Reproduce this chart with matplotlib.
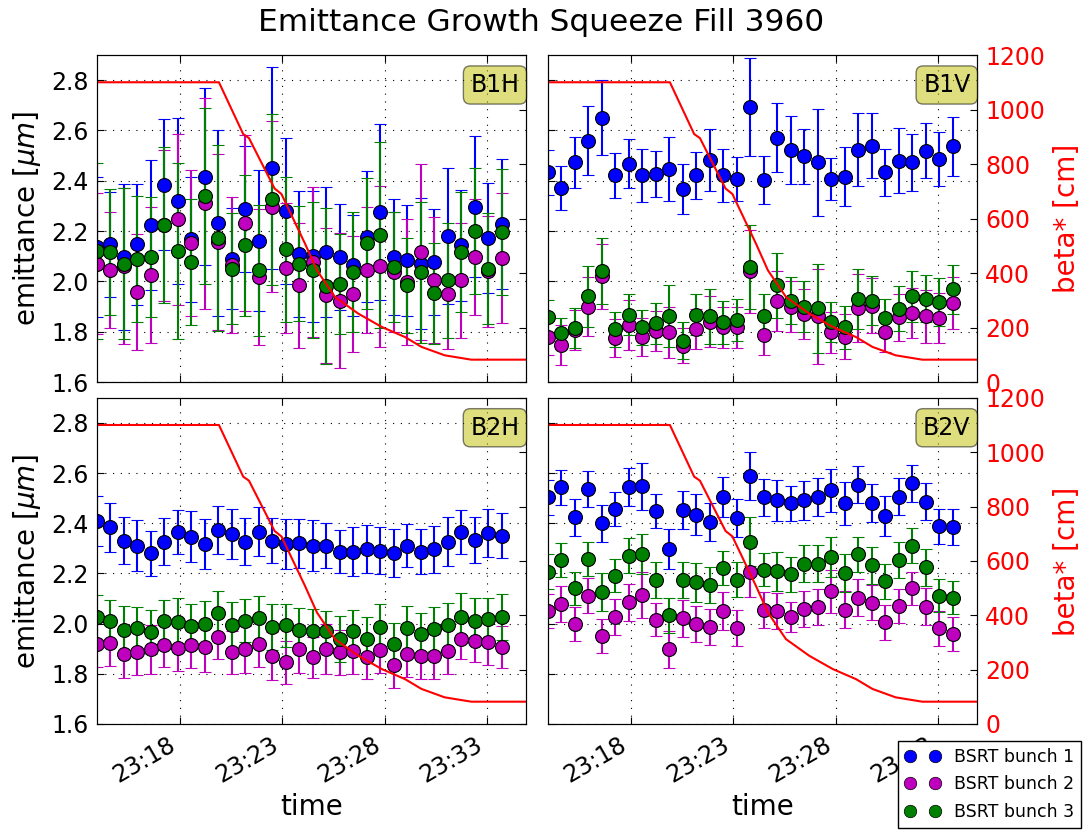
import numpy as np
import pandas as pd
import matplotlib
matplotlib.use("Agg")
import matplotlib.pyplot as plt
import matplotlib.dates as mdates
from matplotlib.lines import Line2D

# measurement times (one BSRT sample roughly every 40 s)
times = ["23:13:58", "23:14:37", "23:15:17", "23:15:56", "23:16:36", "23:17:15",
         "23:17:55", "23:18:34", "23:19:14", "23:19:53", "23:20:33", "23:21:12",
         "23:21:52", "23:22:31", "23:23:11", "23:23:50", "23:24:30", "23:25:09",
         "23:25:49", "23:26:28", "23:27:08", "23:27:47", "23:28:27", "23:29:06",
         "23:29:46", "23:30:25", "23:31:05", "23:31:44", "23:32:24", "23:33:03",
         "23:33:43"]

# beta* during the squeeze [cm]
beta_times = ["23:13:58", "23:19:55", "23:21:06", "23:21:23", "23:22:38", "23:22:58",
              "23:24:07", "23:24:42", "23:25:35", "23:26:43", "23:27:52", "23:29:00",
              "23:29:48", "23:30:56", "23:32:14", "23:34:54"]
beta_values = [1100, 1100, 910, 895, 710, 690, 508, 410, 312, 251, 202, 165,
               129, 98, 82, 82]

# B1H
b1h_1 = [2.137, 2.147, 2.097, 2.147, 2.224, 2.384, 2.32, 2.167, 2.417, 2.231, 2.09,
         2.287, 2.161, 2.451, 2.28, 2.11, 2.1, 2.117, 2.097, 2.064, 2.177, 2.275,
         2.097, 2.084, 2.071, 2.077, 2.18, 2.144, 2.297, 2.173, 2.228]
b1h_1_err = [0.28, 0.21, 0.29, 0.24, 0.26, 0.26, 0.33, 0.25, 0.35, 0.37, 0.20, 0.25,
             0.28, 0.40, 0.29, 0.25, 0.26, 0.26, 0.21, 0.20, 0.26, 0.35, 0.23, 0.22,
             0.26, 0.21, 0.27, 0.22, 0.28, 0.22, 0.26]
b1h_2 = [2.071, 2.044, 2.06, 1.957, 2.024, 2.224, 2.247, 2.151, 2.31, 2.155, 2.064,
         2.233, 2.017, 2.297, 2.053, 1.984, 2.077, 1.944, 1.924, 1.95, 2.044, 2.06,
         2.037, 1.997, 2.117, 2.007, 1.95, 2.004, 2.097, 2.04, 2.093]
b1h_2_err = [0.28, 0.23, 0.31, 0.23, 0.27, 0.30, 0.34, 0.29, 0.42, 0.35, 0.27, 0.35,
             0.27, 0.34, 0.26, 0.25, 0.30, 0.27, 0.27, 0.23, 0.25, 0.32, 0.24, 0.25,
             0.35, 0.25, 0.22, 0.23, 0.23, 0.22, 0.26]
b1h_3 = [2.12, 2.116, 2.07, 2.088, 2.097, 2.224, 2.12, 2.077, 2.341, 2.171, 2.05,
         2.144, 2.044, 2.327, 2.127, 2.071, 2.044, 1.98, 1.99, 2.037, 2.151, 2.184,
         2.057, 1.984, 2.037, 1.953, 2.004, 2.117, 2.201, 2.05, 2.195]
b1h_3_err = [0.35, 0.25, 0.30, 0.25, 0.24, 0.31, 0.35, 0.25, 0.35, 0.37, 0.22, 0.28,
             0.26, 0.34, 0.29, 0.23, 0.27, 0.31, 0.20, 0.24, 0.26, 0.37, 0.22, 0.19,
             0.28, 0.20, 0.23, 0.24, 0.25, 0.22, 0.25]

# B1V
b1v_1 = [2.433, 2.371, 2.473, 2.56, 2.651, 2.421, 2.468, 2.421, 2.427, 2.447, 2.367,
         2.421, 2.484, 2.421, 2.407, 2.695, 2.404, 2.571, 2.524, 2.497, 2.473, 2.407,
         2.417, 2.524, 2.54, 2.433, 2.48, 2.473, 2.52, 2.487, 2.537]
b1v_1_err = [0.09, 0.087, 0.10, 0.137, 0.15, 0.088, 0.097, 0.107, 0.093, 0.128, 0.10,
             0.093, 0.123, 0.105, 0.088, 0.195, 0.096, 0.137, 0.135, 0.11, 0.212, 0.085,
             0.117, 0.145, 0.128, 0.095, 0.128, 0.113, 0.11, 0.108, 0.117]
b1v_2 = [1.777, 1.748, 1.807, 1.9, 2.02, 1.775, 1.828, 1.78, 1.804, 1.797, 1.744,
         1.811, 1.84, 1.817, 1.817, 2.041, 1.788, 1.921, 1.9, 1.871, 1.861, 1.797,
         1.78, 1.895, 1.904, 1.797, 1.857, 1.873, 1.861, 1.855, 1.913]
b1v_2_err = [0.07, 0.08, 0.08, 0.117, 0.13, 0.075, 0.1, 0.075, 0.08, 0.1, 0.07, 0.08,
             0.1, 0.082, 0.082, 0.165, 0.08, 0.12, 0.1, 0.1, 0.19, 0.08, 0.09, 0.135,
             0.11, 0.077, 0.093, 0.1, 0.105, 0.1, 0.103]
b1v_3 = [1.857, 1.793, 1.815, 1.94, 2.041, 1.81, 1.868, 1.817, 1.833, 1.861, 1.764,
         1.867, 1.861, 1.837, 1.847, 2.057, 1.864, 1.984, 1.924, 1.9, 1.893, 1.84,
         1.817, 1.931, 1.924, 1.855, 1.891, 1.94, 1.931, 1.917, 1.968]
b1v_3_err = [0.07, 0.06, 0.08, 0.12, 0.13, 0.07, 0.083, 0.07, 0.082, 0.123, 0.073,
             0.082, 0.108, 0.084, 0.083, 0.167, 0.087, 0.13, 0.093, 0.1, 0.178, 0.08,
             0.085, 0.12, 0.098, 0.077, 0.09, 0.102, 0.093, 0.095, 0.097]

# B2H
b2h_1 = [2.41, 2.384, 2.331, 2.311, 2.281, 2.327, 2.366, 2.347, 2.317, 2.373, 2.357,
         2.327, 2.366, 2.331, 2.317, 2.32, 2.311, 2.311, 2.287, 2.287, 2.297, 2.291,
         2.281, 2.311, 2.287, 2.297, 2.327, 2.366, 2.334, 2.361, 2.35]
b2h_1_err = [0.1, 0.097, 0.095, 0.1, 0.09, 0.094, 0.088, 0.1, 0.1, 0.096, 0.098, 0.094,
             0.098, 0.09, 0.098, 0.098, 0.103, 0.091, 0.087, 0.098, 0.095, 0.094, 0.095,
             0.087, 0.091, 0.094, 0.096, 0.088, 0.092, 0.096, 0.09]
b2h_2 = [1.918, 1.922, 1.878, 1.885, 1.898, 1.914, 1.902, 1.916, 1.905, 1.948, 1.885,
         1.898, 1.92, 1.872, 1.845, 1.898, 1.865, 1.898, 1.885, 1.889, 1.865, 1.894,
         1.836, 1.878, 1.869, 1.869, 1.889, 1.94, 1.931, 1.925, 1.907]
b2h_2_err = [0.09, 0.09, 0.095, 0.088, 0.098, 0.085, 0.09, 0.091, 0.098, 0.09, 0.087,
             0.094, 0.092, 0.096, 0.085, 0.095, 0.083, 0.1, 0.09, 0.09, 0.086, 0.092,
             0.092, 0.09, 0.09, 0.088, 0.09, 0.083, 0.086, 0.088, 0.083]
b2h_3 = [2.025, 2.011, 1.976, 1.982, 1.965, 2.009, 2.005, 1.989, 1.998, 2.041, 1.994,
         2.011, 2.021, 1.987, 1.994, 1.976, 1.971, 1.971, 1.938, 1.971, 1.938, 1.987,
         1.918, 1.982, 1.958, 1.978, 1.994, 2.027, 2.011, 2.018, 2.027]
b2h_3_err = [0.09, 0.085, 0.095, 0.086, 0.088, 0.084, 0.098, 0.09, 0.093, 0.09, 0.092,
             0.086, 0.09, 0.092, 0.086, 0.085, 0.087, 0.08, 0.091, 0.084, 0.088, 0.09,
             0.085, 0.09, 0.083, 0.089, 0.09, 0.096, 0.093, 0.086, 0.092]

# B2V
b2v_1 = [2.503, 2.543, 2.423, 2.537, 2.4, 2.457, 2.543, 2.547, 2.448, 2.297, 2.453,
         2.434, 2.406, 2.506, 2.42, 2.587, 2.503, 2.492, 2.479, 2.492, 2.506, 2.532,
         2.479, 2.553, 2.479, 2.429, 2.506, 2.559, 2.486, 2.388, 2.384]
b2v_1_err = [0.071, 0.07, 0.073, 0.073, 0.073, 0.068, 0.076, 0.093, 0.068, 0.081, 0.076,
             0.082, 0.076, 0.08, 0.076, 0.096, 0.075, 0.082, 0.07, 0.078, 0.076, 0.086,
             0.086, 0.074, 0.076, 0.078, 0.073, 0.073, 0.073, 0.07, 0.071]
b2v_2 = [2.049, 2.078, 1.998, 2.111, 1.949, 2.027, 2.085, 2.114, 2.015, 1.898, 2.021,
         1.998, 1.987, 2.051, 1.982, 2.205, 2.054, 2.051, 2.027, 2.058, 2.065, 2.128,
         2.055, 2.104, 2.084, 2.005, 2.071, 2.14, 2.067, 1.981, 1.958]
b2v_2_err = [0.068, 0.07, 0.068, 0.07, 0.068, 0.071, 0.073, 0.091, 0.066, 0.073, 0.073,
             0.071, 0.071, 0.075, 0.071, 0.1, 0.071, 0.071, 0.061, 0.071, 0.071, 0.084,
             0.074, 0.072, 0.071, 0.07, 0.068, 0.065, 0.074, 0.071, 0.068]
b2v_3 = [2.207, 2.253, 2.14, 2.257, 2.127, 2.191, 2.271, 2.277, 2.174, 2.034, 2.174,
         2.164, 2.154, 2.221, 2.175, 2.327, 2.214, 2.208, 2.197, 2.239, 2.239, 2.266,
         2.203, 2.277, 2.233, 2.168, 2.253, 2.311, 2.224, 2.111, 2.104]
b2v_3_err = [0.07, 0.068, 0.065, 0.068, 0.075, 0.065, 0.071, 0.081, 0.07, 0.07, 0.071,
             0.076, 0.072, 0.068, 0.07, 0.096, 0.066, 0.077, 0.07, 0.073, 0.074, 0.081,
             0.076, 0.07, 0.074, 0.07, 0.072, 0.071, 0.074, 0.066, 0.064]

bunch_labels = ["BSRT bunch 1", "BSRT bunch 2", "BSRT bunch 3"]
bunch_colors = ["b", "m", "g"]

day = "2013-08-02 "
t = pd.to_datetime([day + s for s in times])
bt = pd.to_datetime([day + s for s in beta_times])

panels = [
    ("B1H", [b1h_1, b1h_2, b1h_3], [b1h_1_err, b1h_2_err, b1h_3_err], [0.0896, 0.5403, 0.396, 0.3935]),
    ("B1V", [b1v_1, b1v_2, b1v_3], [b1v_1_err, b1v_2_err, b1v_3_err], [0.506, 0.5403, 0.396, 0.3935]),
    ("B2H", [b2h_1, b2h_2, b2h_3], [b2h_1_err, b2h_2_err, b2h_3_err], [0.0896, 0.1288, 0.396, 0.3925]),
    ("B2V", [b2v_1, b2v_2, b2v_3], [b2v_1_err, b2v_2_err, b2v_3_err], [0.506, 0.1288, 0.396, 0.3925]),
]

fig = plt.figure(figsize=(10.83, 8.31), dpi=100)
fig.suptitle("Emittance Growth Squeeze Fill 3960", fontsize=22.5, y=0.99)

for i, (name, vals, errs, pos) in enumerate(panels):
    left = i % 2 == 0
    bottom = i >= 2
    ax = fig.add_axes(pos)
    for v, e, c in zip(vals, errs, bunch_colors):
        ax.errorbar(t, v, yerr=e, fmt="o", color=c, ecolor=c, ms=10, mec="k",
                    mew=0.8, capsize=4.5, elinewidth=1.5, capthick=1.5)
    ax.set_ylim(1.6, 2.9)
    ax.set_yticks(np.arange(1.6, 2.81, 0.2))
    ax.set_xlim(bt[0], bt[-1])
    ax.xaxis.set_major_locator(mdates.MinuteLocator(byminute=range(3, 60, 5)))
    ax.xaxis.set_major_formatter(mdates.DateFormatter("%H:%M"))
    ax.grid(True, color="k", linestyle=(0, (1, 6)), linewidth=0.8)
    ax.tick_params(direction="in", labelsize=17, top=True, length=5, pad=6)
    if left:
        ax.set_ylabel(r"emittance [$\mu m$]", fontsize=20, labelpad=6)
    else:
        ax.tick_params(labelleft=False)
    if bottom:
        plt.setp(ax.get_xticklabels(), rotation=30, ha="right")
        ax.set_xlabel("time", fontsize=20)
    else:
        ax.tick_params(labelbottom=False)

    tw = ax.twinx()
    tw.plot(bt, beta_values, color="r", lw=1.5)
    tw.set_ylim(0, 1200)
    tw.set_yticks(np.arange(0, 1201, 200))
    tw.tick_params(direction="in", labelsize=17, labelcolor="r", length=5, pad=6)
    if left:
        tw.tick_params(labelright=False)
    else:
        tw.set_ylabel("beta* [cm]", color="r", fontsize=20, labelpad=6)
    tw.text(0.985, 0.945, name, transform=ax.transAxes, ha="right", va="top",
            fontsize=17, bbox=dict(boxstyle="round", facecolor="y", alpha=0.5))

handles = [Line2D([], [], ls="none", marker="o", ms=9, color=c, mec="k", mew=0.5)
           for c in bunch_colors]
fig.legend(handles, bunch_labels, loc="lower right", bbox_to_anchor=(0.998, 0.004),
           numpoints=2, fontsize=12.5, labelspacing=0.55, fancybox=False,
           framealpha=1, edgecolor="k", borderaxespad=0)

fig.savefig("out.png", dpi=100)
